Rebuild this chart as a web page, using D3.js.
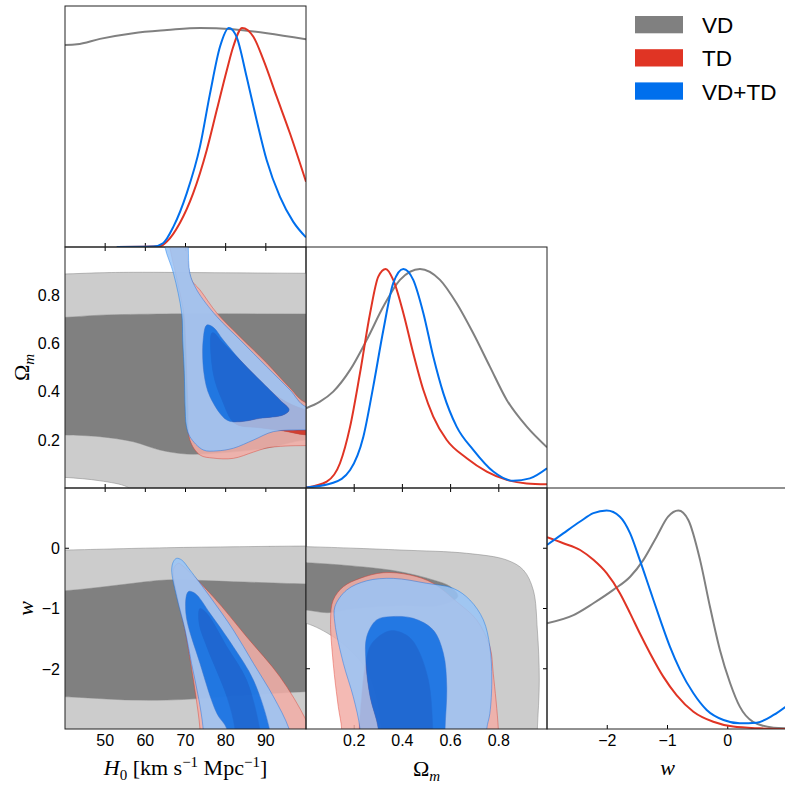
<!DOCTYPE html>
<html>
<head>
<meta charset="utf-8">
<script src="https://cdn.jsdelivr.net/npm/d3@7"></script>
<style>
  body { margin: 0; background: #fff; }
  svg { display: block; }
</style>
</head>
<body>
<div id="chart"></div>
<script>
// ---------- data ----------
const names = ["VD", "TD", "VD+TD"];
const colors = ["#808080", "#E03424", "#006FED"];
const ranges = [[40, 100], [0, 1], [-3, 1]];
const tickVals = [[50, 60, 70, 80, 90], [0.2, 0.4, 0.6, 0.8], [-2, -1, 0]];

// 1D marginals [value, normalised density]
const h0_VD = [[40,0.922],[43,0.925],[48.7,0.95],[57,0.976],[65.4,0.99],[73.6,1.0],[81.8,0.994],[90.3,0.976],[100,0.948]];
const h0_TD = [[52.9,0],[63.6,0.003],[65.3,0.024],[68.6,0.11],[71.9,0.245],[75.3,0.443],[77.8,0.626],[80.3,0.808],[81.9,0.915],[84.1,1.0],[86.9,0.96],[89.4,0.854],[92.7,0.686],[96,0.519],[100,0.298]];
const h0_VDTD = [[52.9,0],[62,0.002],[64.4,0.017],[67,0.093],[70.3,0.245],[73.6,0.458],[76.1,0.70],[78.6,0.915],[80.8,1.0],[82.7,0.96],[85.2,0.778],[87.7,0.58],[90.2,0.397],[93.5,0.23],[96.8,0.116],[100,0.044]];

const om_VD = [[0,0.364],[0.058,0.394],[0.113,0.44],[0.183,0.539],[0.252,0.676],[0.321,0.828],[0.39,0.95],[0.473,1.0],[0.556,0.95],[0.625,0.843],[0.694,0.706],[0.763,0.554],[0.833,0.402],[0.916,0.28],[1.0,0.186]];
const om_TD = [[0,0.002],[0.086,0.029],[0.141,0.113],[0.183,0.28],[0.224,0.524],[0.266,0.798],[0.30,0.965],[0.331,1.0],[0.362,0.95],[0.404,0.798],[0.445,0.615],[0.487,0.447],[0.528,0.326],[0.584,0.219],[0.667,0.136],[0.75,0.075],[0.833,0.037],[0.916,0.021],[1.0,0.017]];
const om_VDTD = [[0,0.002],[0.113,0.024],[0.183,0.082],[0.238,0.234],[0.279,0.463],[0.321,0.721],[0.362,0.935],[0.404,1.0],[0.445,0.95],[0.487,0.798],[0.528,0.6],[0.57,0.432],[0.625,0.28],[0.694,0.174],[0.777,0.075],[0.86,0.033],[0.929,0.044],[1.0,0.09]];

const w_VD = [[-3,0.483],[-2.56,0.52],[-2.23,0.574],[-1.9,0.635],[-1.62,0.695],[-1.4,0.772],[-1.18,0.878],[-0.99,0.969],[-0.82,0.997],[-0.655,0.954],[-0.46,0.772],[-0.295,0.558],[-0.13,0.361],[0.04,0.209],[0.2,0.102],[0.42,0.033],[0.76,0.006],[1.0,0.003]];
const w_TD = [[-3,0.875],[-2.73,0.848],[-2.45,0.817],[-2.23,0.772],[-2.01,0.711],[-1.79,0.62],[-1.62,0.528],[-1.46,0.437],[-1.29,0.346],[-1.07,0.239],[-0.85,0.155],[-0.57,0.079],[-0.24,0.033],[0.09,0.011],[0.53,0.003],[1.0,0.0]];
const w_VDTD = [[-3,0.84],[-2.73,0.893],[-2.45,0.947],[-2.23,0.985],[-2.01,0.997],[-1.79,0.969],[-1.62,0.893],[-1.46,0.772],[-1.29,0.635],[-1.12,0.498],[-0.96,0.376],[-0.79,0.269],[-0.57,0.163],[-0.35,0.087],[-0.07,0.041],[0.2,0.026],[0.48,0.029],[0.76,0.064],[1.0,0.11]];

// 2D contours (95% and 68%), [x param, y param]
const h0om_VD_95 = [[35,0.886],[40,0.888],[48.7,0.893],[57,0.895],[80,0.893],[100,0.891],[112,0.89],[112,-0.2],[62,-0.2],[57,-0.02],[55.4,0.005],[48.7,0.03],[40,0.044],[35,0.047]];
const h0om_VD_68 = [[35,0.706],[40,0.708],[48.7,0.717],[65.3,0.722],[100,0.722],[110,0.722],[110,0.2],[100,0.2],[90,0.165],[78,0.145],[70.3,0.141],[63.6,0.158],[57,0.192],[48.7,0.213],[40,0.22],[35,0.22]];
const h0om_TD_95 = [[65.5,1.1],[66.1,1.0],[67.9,0.863],[69.6,0.72],[70.0,0.614],[70.3,0.476],[70.6,0.337],[71.1,0.199],[73.6,0.137],[76.9,0.124],[81.9,0.123],[86.9,0.149],[90.2,0.166],[94.8,0.174],[100,0.176],[110,0.176],[110,0.34],[100,0.353],[96,0.415],[90.2,0.519],[83.6,0.627],[77.8,0.726],[73.6,0.822],[71.5,0.863],[70.6,0.934],[70.4,1.0],[70.3,1.1]];
const h0om_TD_68 = [[76.5,0.642],[76.9,0.476],[79.1,0.365],[82.3,0.268],[88.5,0.25],[94,0.238],[100,0.22],[110,0.215],[110,0.30],[100,0.324],[93.5,0.373],[88.5,0.448],[83.6,0.531],[79.1,0.606],[77.1,0.643]];
const h0om_VDTD_95 = [[64.5,1.1],[64.9,0.999],[67.0,0.891],[69.05,0.725],[69.3,0.614],[69.7,0.476],[69.9,0.337],[70.2,0.26],[71.1,0.213],[74.4,0.158],[77.8,0.154],[81.9,0.165],[86.9,0.199],[91.9,0.234],[100,0.241],[110,0.243],[110,0.337],[100,0.337],[96.0,0.407],[90.2,0.503],[83.6,0.614],[77.8,0.711],[72.8,0.822],[71.1,0.891],[70.7,0.999],[70.5,1.1]];
const h0om_VDTD_68 = [[75.3,0.676],[74.4,0.614],[74.6,0.476],[76.1,0.379],[80.3,0.282],[83.6,0.275],[88.5,0.289],[94.3,0.303],[95.8,0.324],[93.5,0.365],[88.5,0.448],[83.6,0.531],[79.4,0.614],[76.9,0.667]];

const h0w_VD_95 = [[35,-0.03],[40,-0.029],[65.3,0.009],[100,0.037],[112,0.04],[112,-3.6],[35,-3.6]];
const h0w_VD_68 = [[35,-0.71],[40,-0.705],[48.7,-0.648],[57,-0.582],[65.3,-0.527],[81.9,-0.555],[100,-0.593],[110,-0.6],[110,-2.37],[100,-2.38],[81.9,-2.45],[69.5,-2.51],[57,-2.52],[40,-2.464],[35,-2.46]];
const h0w_TD_95 = [[68.2,-0.25],[69.05,-0.278],[76.9,-0.805],[85.2,-1.468],[93.5,-2.132],[100,-2.85],[104,-3.5],[73.8,-3.5],[73.6,-3.0],[72.6,-2.464],[71.3,-1.91],[69.9,-1.357],[68.0,-0.805],[67.0,-0.35]];
const h0w_TD_68 = [[73.6,-1.0],[75.3,-1.08],[80.3,-1.634],[85.2,-2.187],[88.5,-3.0],[89.3,-3.5],[82.5,-3.5],[82.3,-3.0],[80.3,-2.464],[75.3,-1.634],[73.4,-1.25]];
const h0w_VDTD_95 = [[67.8,-0.167],[69.05,-0.195],[71.1,-0.361],[76.1,-0.805],[81.9,-1.357],[86.9,-1.91],[91.9,-2.464],[95.8,-3.0],[97.5,-3.5],[74.6,-3.5],[74.4,-3.0],[73.2,-2.464],[71.5,-1.91],[69.9,-1.357],[67.8,-0.805],[66.56,-0.361],[67.0,-0.22]];
const h0w_VDTD_68 = [[70.7,-0.72],[72.4,-0.75],[76.1,-1.08],[81.9,-1.634],[86.9,-2.187],[90.9,-3.0],[91.8,-3.5],[80.6,-3.5],[80.3,-3.0],[77.8,-2.74],[73.6,-1.91],[70.1,-1.08]];

const omw_VD_95 = [[-0.1,0.03],[0,0.026],[0.39,-0.029],[0.667,-0.084],[0.833,-0.195],[0.902,-0.361],[0.943,-0.693],[0.96,-1.357],[0.968,-2.187],[0.96,-3.0],[0.955,-3.5],[0.33,-3.5],[0.314,-3.0],[0.293,-2.464],[0.252,-2.02],[0.183,-1.69],[0.113,-1.468],[0,-1.246],[-0.1,-1.22]];
const omw_VD_68 = [[-0.1,-0.235],[0,-0.24],[0.252,-0.316],[0.39,-0.39],[0.528,-0.527],[0.6,-0.64],[0.63,-0.8],[0.55,-0.95],[0.4,-0.95],[0.2,-1.0],[0.09,-1.07],[0,-1.025],[-0.1,-1.02]];
const omw_TD_95 = [[0.148,-3.5],[0.148,-3.0],[0.134,-2.63],[0.113,-1.91],[0.102,-1.19],[0.113,-0.86],[0.155,-0.638],[0.224,-0.5],[0.321,-0.406],[0.432,-0.444],[0.528,-0.582],[0.625,-0.887],[0.708,-1.19],[0.763,-1.634],[0.777,-2.08],[0.798,-3.0],[0.8,-3.5]];
const omw_TD_68 = [[0.221,-3.5],[0.221,-3.0],[0.231,-2.464],[0.245,-1.966],[0.273,-1.58],[0.349,-1.37],[0.42,-1.45],[0.459,-1.634],[0.508,-2.187],[0.526,-3.0],[0.526,-3.5]];
const omw_VDTD_95 = [[0.224,-3.5],[0.224,-3.0],[0.196,-2.464],[0.155,-1.91],[0.12,-1.246],[0.12,-0.97],[0.169,-0.693],[0.252,-0.54],[0.362,-0.5],[0.501,-0.582],[0.611,-0.665],[0.68,-0.859],[0.736,-1.19],[0.763,-1.634],[0.771,-2.187],[0.763,-2.74],[0.75,-3.0],[0.75,-3.5]];
const omw_VDTD_68 = [[0.3,-3.5],[0.3,-3.0],[0.266,-2.464],[0.249,-1.91],[0.252,-1.468],[0.293,-1.19],[0.349,-1.136],[0.445,-1.163],[0.528,-1.357],[0.57,-1.744],[0.584,-2.298],[0.577,-3.0],[0.577,-3.5]];

// ---------- layout ----------
const W = 785, H = 786;
const size = 241, padLeft = 65, padTop = 6;
const tickLen = 4;

const svg = d3.select("#chart").append("svg").attr("width", W).attr("height", H);

const xs = ranges.map((r, j) => d3.scaleLinear().domain(r).range([padLeft + j * size, padLeft + (j + 1) * size]));
const ys = ranges.map((r, i) => d3.scaleLinear().domain(r).range([padTop + (i + 1) * size, padTop + i * size]));
const yDens = i => d3.scaleLinear().domain([0, 1.1]).range([padTop + (i + 1) * size, padTop + i * size]);

const marginals = [[h0_VD, h0_TD, h0_VDTD], [om_VD, om_TD, om_VDTD], [w_VD, w_TD, w_VDTD]];
const pairs = [
  { row: 1, col: 0, sets: [[h0om_VD_95, h0om_VD_68], [h0om_TD_95, h0om_TD_68], [h0om_VDTD_95, h0om_VDTD_68]] },
  { row: 2, col: 0, sets: [[h0w_VD_95, h0w_VD_68], [h0w_TD_95, h0w_TD_68], [h0w_VDTD_95, h0w_VDTD_68]] },
  { row: 2, col: 1, sets: [[omw_VD_95, omw_VD_68], [omw_TD_95, omw_TD_68], [omw_VDTD_95, omw_VDTD_68]] }
];

const defs = svg.append("defs");
function clipFor(i, j) {
  const id = `clip-${i}-${j}`;
  defs.append("clipPath").attr("id", id).append("rect")
    .attr("x", xs[j].range()[0]).attr("y", ys[i].range()[1])
    .attr("width", size).attr("height", size);
  return `url(#${id})`;
}

function drawTicks(g, i, j, sides) {
  const x0 = xs[j].range()[0], x1 = xs[j].range()[1];
  const y0 = ys[i].range()[1], y1 = ys[i].range()[0];
  const tg = g.append("g").attr("stroke", "#000").attr("stroke-width", 1);
  if (sides.includes("bottom") || sides.includes("top")) {
    tickVals[j].forEach(t => {
      const x = xs[j](t);
      if (sides.includes("bottom")) tg.append("line").attr("x1", x).attr("x2", x).attr("y1", y1).attr("y2", y1 - tickLen);
      if (sides.includes("top")) tg.append("line").attr("x1", x).attr("x2", x).attr("y1", y0).attr("y2", y0 + tickLen);
    });
  }
  if (sides.includes("left") || sides.includes("right")) {
    tickVals[i].forEach(t => {
      const y = ys[i](t);
      if (sides.includes("left")) tg.append("line").attr("y1", y).attr("y2", y).attr("x1", x0).attr("x2", x0 + tickLen);
      if (sides.includes("right")) tg.append("line").attr("y1", y).attr("y2", y).attr("x1", x1).attr("x2", x1 - tickLen);
    });
  }
}

function drawBorder(g, i, j) {
  g.append("rect")
    .attr("x", xs[j].range()[0]).attr("y", ys[i].range()[1])
    .attr("width", size).attr("height", size)
    .attr("fill", "none").attr("stroke", "#222").attr("stroke-width", 1);
}

// ---------- diagonal panels ----------
marginals.forEach((curves, i) => {
  const g = svg.append("g");
  drawTicks(g, i, i, ["bottom"]);
  const sy = yDens(i);
  const line = d3.line().x(d => xs[i](d[0])).y(d => sy(d[1])).curve(d3.curveMonotoneX);
  const lg = g.append("g").attr("clip-path", clipFor(i, i));
  curves.forEach((c, k) => {
    lg.append("path").attr("d", line(c))
      .attr("fill", "none").attr("stroke", colors[k]).attr("stroke-width", 2);
  });
  drawBorder(g, i, i);
});

// ---------- 2D panels ----------
pairs.forEach(p => {
  const g = svg.append("g");
  drawTicks(g, p.row, p.col, ["bottom", "top", "left", "right"]);
  const ring = d3.line().x(d => xs[p.col](d[0])).y(d => ys[p.row](d[1]))
    .curve(d3.curveCatmullRomClosed.alpha(0.5));
  const cg = g.append("g").attr("clip-path", clipFor(p.row, p.col));
  p.sets.forEach(([c95, c68], k) => {
    const alpha = k === 0 ? 1 : 0.85;
    const pale = d3.interpolateRgb(colors[k], "#ffffff")(0.6);
    const sg = cg.append("g").attr("opacity", alpha);
    sg.append("path").attr("d", ring(c95) + ring(c68))
      .attr("fill", pale).attr("fill-rule", "evenodd");
    sg.append("path").attr("d", ring(c68)).attr("fill", colors[k]);
    sg.append("path").attr("d", ring(c95) + ring(c68))
      .attr("fill", "none").attr("stroke", colors[k])
      .attr("stroke-width", 0.7).attr("stroke-opacity", 0.7);
  });
  drawBorder(g, p.row, p.col);
});

// ---------- tick labels ----------
const tickFont = "Liberation Sans, Arial, sans-serif";
const fmt = [d => d3.format("d")(d), d => d3.format(".1f")(d), d => String(d).replace("-", "\u2212")];
const bottomY = padTop + 3 * size;
[0, 1, 2].forEach(j => {
  svg.append("g").selectAll("text").data(tickVals[j]).join("text")
    .attr("x", d => xs[j](d)).attr("y", bottomY + 17)
    .attr("text-anchor", "middle").attr("font-family", tickFont).attr("font-size", 16)
    .text(fmt[j]);
});
[1, 2].forEach(i => {
  svg.append("g").selectAll("text").data(tickVals[i]).join("text")
    .attr("x", padLeft - 5).attr("y", d => ys[i](d)).attr("dy", "0.36em")
    .attr("text-anchor", "end").attr("font-family", tickFont).attr("font-size", 16)
    .text(fmt[i]);
});

// ---------- axis titles ----------
const mathFont = "Liberation Serif, DejaVu Serif, serif";
function mathLabel(parts, x, y, rotate) {
  const t = svg.append("text")
    .attr("transform", `translate(${x},${y})` + (rotate ? " rotate(-90)" : ""))
    .attr("text-anchor", "middle").attr("font-family", mathFont).attr("font-size", 22);
  let shift = 0;
  parts.forEach(p => {
    const target = p.sub ? 5 : p.sup ? -8 : 0;
    const s = t.append("tspan").attr("dy", target - shift).text(p.t);
    shift = target;
    if (p.italic) s.attr("font-style", "italic");
    if (p.sub || p.sup) s.attr("font-size", 15);
  });
  return t;
}
const h0Label = [{ t: "H", italic: true }, { t: "0", sub: true }, { t: " [km s" }, { t: "\u22121", sup: true }, { t: " Mpc" }, { t: "\u22121", sup: true }, { t: "]" }];
const omLabel = [{ t: "\u03A9" }, { t: "m", italic: true, sub: true }];
const wLabel = [{ t: "w", italic: true }];

mathLabel(h0Label, padLeft + size / 2, 775);
mathLabel(omLabel, padLeft + size * 1.5, 776);
mathLabel(wLabel, padLeft + size * 2.5, 775);
mathLabel(omLabel, 29, padTop + size * 1.5, true);
mathLabel(wLabel, 33, padTop + size * 2.5, true);

// ---------- legend ----------
const legend = svg.append("g").attr("transform", "translate(635,16)");
names.forEach((n, k) => {
  legend.append("rect").attr("x", 0).attr("y", k * 33.2).attr("width", 48).attr("height", 17.3).attr("fill", colors[k]);
  legend.append("text").attr("x", 67).attr("y", k * 33.2 + 17.2)
    .attr("font-family", tickFont).attr("font-size", 22.5).text(n);
});
</script>
</body>
</html>
